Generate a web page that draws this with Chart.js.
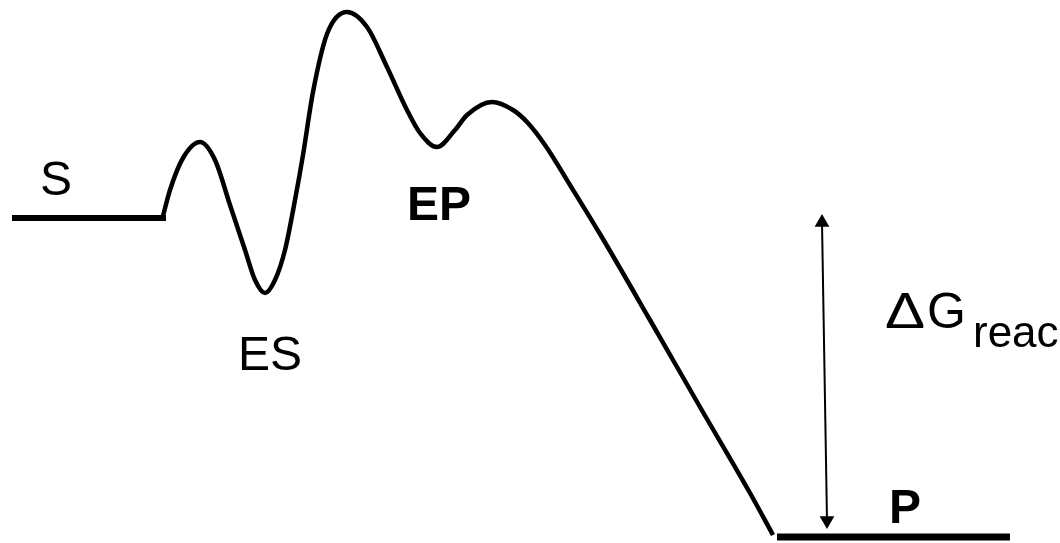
<!DOCTYPE html>
<html>
<head>
<meta charset="utf-8">
<script src="https://cdn.jsdelivr.net/npm/chart.js@4/dist/chart.umd.min.js"></script>
<style>
  body { margin: 0; background: #fff; }
  canvas { display: block; }
</style>
</head>
<body>
<canvas id="EnergyChart" width="1060" height="543"></canvas>
<script>
// reaction coordinate (x) and free energy (G)
const substrateX = [12, 166];
const substrateG = [325, 325];

const pathX = [163, 170, 183, 200, 215, 230, 245, 255, 265, 275, 285, 295, 303, 313, 327, 347, 367, 387, 407, 420, 437, 455, 467, 492, 513, 527, 545, 570, 600, 650, 700, 750, 773];
const pathG = [327, 353, 385, 401, 383, 338, 293, 263, 250, 263, 293, 343, 388, 451, 509, 531, 516, 476, 433, 410, 396, 413, 428, 441, 433, 421, 398, 358, 309, 223, 136, 50, 8];

const productX = [777, 1010];
const productG = [6, 6];

// delta G arrow, from substrate level down to product level
const arrowX = [822, 827];
const arrowG = [320.5, 22.5];

const labels = ['S', 'ES', 'EP', 'P'];
const labelX = [56, 270, 439, 905];
const labelG = [348, 173, 323, 20];
const labelBold = [false, false, true, true];

const toPoints = (xs, ys) => xs.map((x, i) => ({ x: x, y: ys[i] }));

const textPlugin = {
    id: 'textLabels',
    afterDraw(chart) {
        const c = chart.ctx;
        const xs = chart.scales.x;
        const ys = chart.scales.y;
        c.save();
        c.fillStyle = '#000';
        c.textBaseline = 'alphabetic';
        c.textAlign = 'center';
        labels.forEach((txt, i) => {
            c.font = (labelBold[i] ? 'bold ' : '') + '48px "Liberation Sans", Arial, sans-serif';
            c.fillText(txt, xs.getPixelForValue(labelX[i]), ys.getPixelForValue(labelG[i]));
        });
        // delta G with subscript, delta a bit wider like the original
        c.textAlign = 'left';
        c.font = '50px "Liberation Sans", Arial, sans-serif';
        c.save();
        c.translate(xs.getPixelForValue(885), ys.getPixelForValue(215));
        c.scale(1.2, 1);
        c.fillText('\u0394', 0, 0);
        c.restore();
        c.fillText('G', xs.getPixelForValue(927), ys.getPixelForValue(215));
        c.font = '44px "Liberation Sans", Arial, sans-serif';
        c.fillText('reac', xs.getPixelForValue(973), ys.getPixelForValue(196));
        c.restore();
    }
};

const ctx = document.getElementById('EnergyChart');
new Chart(ctx, {
    type: 'line',
    data: {
        datasets: [
            {
                data: toPoints(substrateX, substrateG),
                borderColor: '#000',
                borderWidth: 6,
                pointRadius: 0
            },
            {
                data: toPoints(pathX, pathG),
                borderColor: '#000',
                borderWidth: 4.5,
                pointRadius: 0,
                cubicInterpolationMode: 'monotone'
            },
            {
                data: toPoints(productX, productG),
                borderColor: '#000',
                borderWidth: 7,
                pointRadius: 0
            },
            {
                data: toPoints(arrowX, arrowG),
                borderColor: '#000',
                borderWidth: 2,
                pointStyle: 'triangle',
                pointRadius: 8.5,
                pointRotation: [0, 180],
                pointBackgroundColor: '#000',
                pointBorderColor: '#000',
                pointBorderWidth: 0
            }
        ]
    },
    options: {
        responsive: false,
        animation: false,
        events: [],
        layout: { padding: 0, autoPadding: false },
        plugins: {
            legend: { display: false },
            tooltip: { enabled: false }
        },
        scales: {
            x: { type: 'linear', min: 0, max: 1060, display: false },
            y: { type: 'linear', min: 0, max: 543, display: false }
        }
    },
    plugins: [textPlugin]
});
</script>
</body>
</html>
